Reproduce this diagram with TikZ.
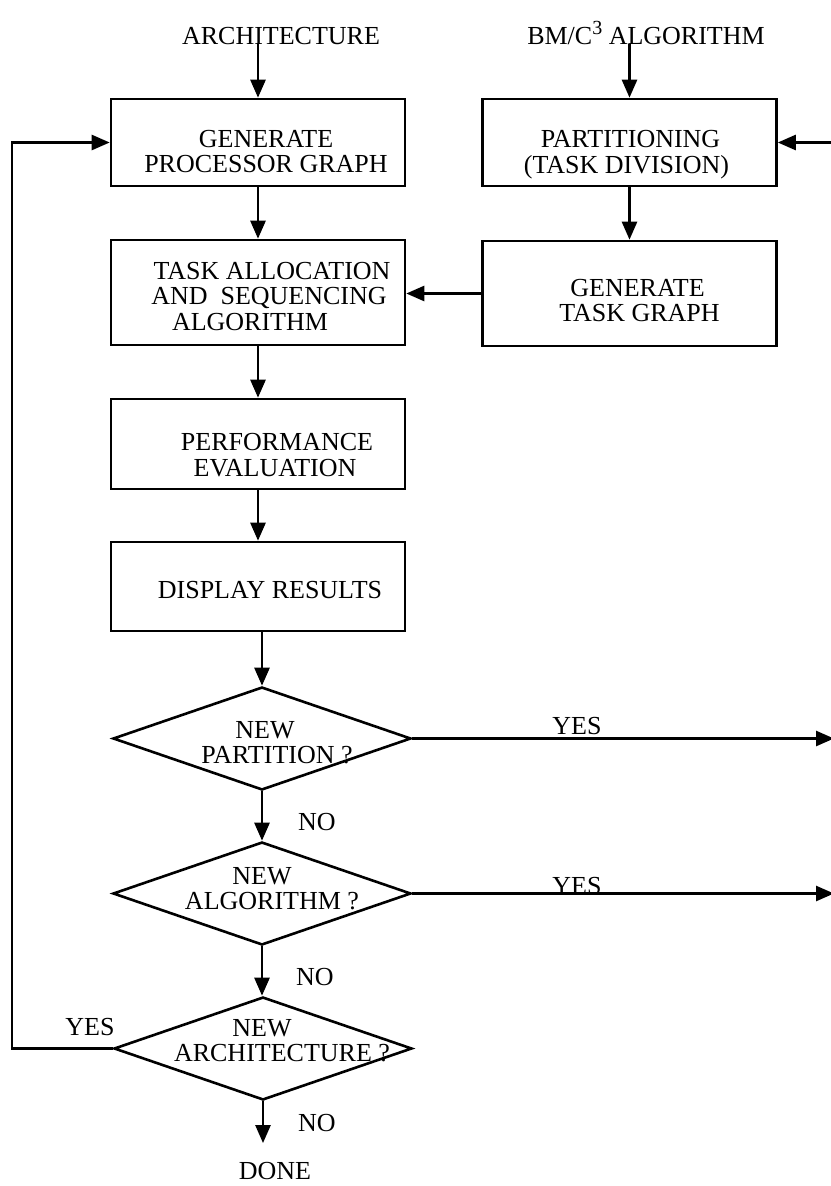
\documentclass[tikz,border=0pt]{standalone}
\usepackage{fontspec}
\setmainfont{Liberation Serif}
\usetikzlibrary{arrows.meta,shapes.geometric}
% set a line's glyphs off by (#1 right, #2 up) without changing its measured box
\newcommand{\mv}[3]{\raisebox{#2}[\height][\depth]{\kern#1\relax#3\kern-#1\relax}}
\begin{document}
\begin{tikzpicture}[x=1pt,y=-1pt,
  every node/.style={font=\fontsize{26}{25.5}\selectfont},
  proc/.style={draw,line width=2.6pt,minimum width=294pt,align=center,inner sep=0pt},
  test/.style={draw,diamond,aspect=2.9,line width=2.6pt,inner xsep=-60pt,inner ysep=-12pt,
               minimum width=298pt,minimum height=103pt,align=center},
  flow/.style={line width=2.6pt,-{Triangle[length=18pt,width=15pt]}},
  lbl/.style={inner sep=0pt}]
\useasboundingbox (0,0) rectangle (830,1186);

% inputs
\node[lbl,anchor=base] (arch) at (281,44) {ARCHITECTURE};
\node[lbl,anchor=base] (bm) at (646,44) {BM/C\raisebox{10pt}{\fontsize{20}{20}\selectfont 3} ALGORITHM};

% process boxes
\node[proc,minimum height=87pt]  (b1) at (258,142.5)
  {\mv{8pt}{-9pt}{GENERATE}\\\mv{8pt}{-9pt}{PROCESSOR GRAPH}};
\node[proc,minimum height=87pt]  (b2) at (629.5,142.5)
  {\mv{1pt}{-12pt}{PARTITIONING}\\\mv{-3pt}{-12pt}{(TASK DIVISION)}};
\node[proc,minimum height=105pt] (b3) at (258,292.5)
  {\mv{14pt}{-4pt}{TASK ALLOCATION}\\\mv{11pt}{-4pt}{AND\ \ SEQUENCING}\\\mv{-8pt}{-4pt}{ALGORITHM}};
\node[proc,minimum height=105pt] (b4) at (629.5,293.5)
  {\mv{8pt}{-7pt}{GENERATE}\\\mv{10pt}{-7pt}{TASK GRAPH}};
\node[proc,minimum height=90pt]  (b5) at (258,444)
  {\mv{19pt}{-11pt}{PERFORMANCE}\\\mv{17pt}{-11pt}{EVALUATION}};
\node[proc,minimum height=89pt]  (b6) at (258,586.5)
  {\mv{12pt}{-4pt}{DISPLAY RESULTS}};

% decisions
\node[test] (d1) at (262,738.5) {\mv{3pt}{-4pt}{NEW}\\\mv{15pt}{-4pt}{PARTITION ?}};
\node[test] (d2) at (262,893.5) {\mv{0pt}{5pt}{NEW}\\\mv{10pt}{5pt}{ALGORITHM ?}};
\node[test] (d3) at (263,1048.5) {\mv{-1pt}{8pt}{NEW}\\\mv{19pt}{8pt}{ARCHITECTURE ?}};

\node[lbl] (done) at (275,1171) {DONE};

% branch labels
\node[lbl,anchor=south] (yes1) at (577,735) {YES};
\node[lbl,anchor=base]  (yes2) at (577,894) {YES};
\node[lbl] (yes3) at (90,1027) {YES};
\node[lbl] (no1) at (317,822) {NO};
\node[lbl] (no2) at (315,977) {NO};
\node[lbl] (no3) at (317,1123) {NO};

% page edges used by the loop-back lines
\coordinate (lft) at (12,0);
\coordinate (rgt) at (834,0);

% main flow
\draw[flow] (arch.base -| b1.north) -- (b1.north);
\draw[flow] (bm.base -| b2.north) -- (b2.north);
\draw[flow] (b1) -- (b3);
\draw[flow] (b2) -- (b4);
\draw[flow] (b4.west) -- (b4.west -| b3.east);
\draw[flow] (b3) -- (b5);
\draw[flow] (b5) -- (b6);
\draw[flow] (b6.south -| d1.north) -- (d1.north);
\draw[flow] (d1.south) -- (d2.north);
\draw[flow] (d2.south) -- (d2.south |- d3.north);
\draw[flow,shorten >=19pt] (d3.south) -- (d3.south |- done.north);

% loop-backs
\draw[flow] (d1.east) -- (d1.east -| rgt);
\draw[flow] (d2.east) -- (d2.east -| rgt);
\draw[flow] (b2.east -| rgt) -- (b2.east);
\draw[flow] (d3.west) -- (d3.west -| lft) |- (b1.west);
\end{tikzpicture}
\end{document}
